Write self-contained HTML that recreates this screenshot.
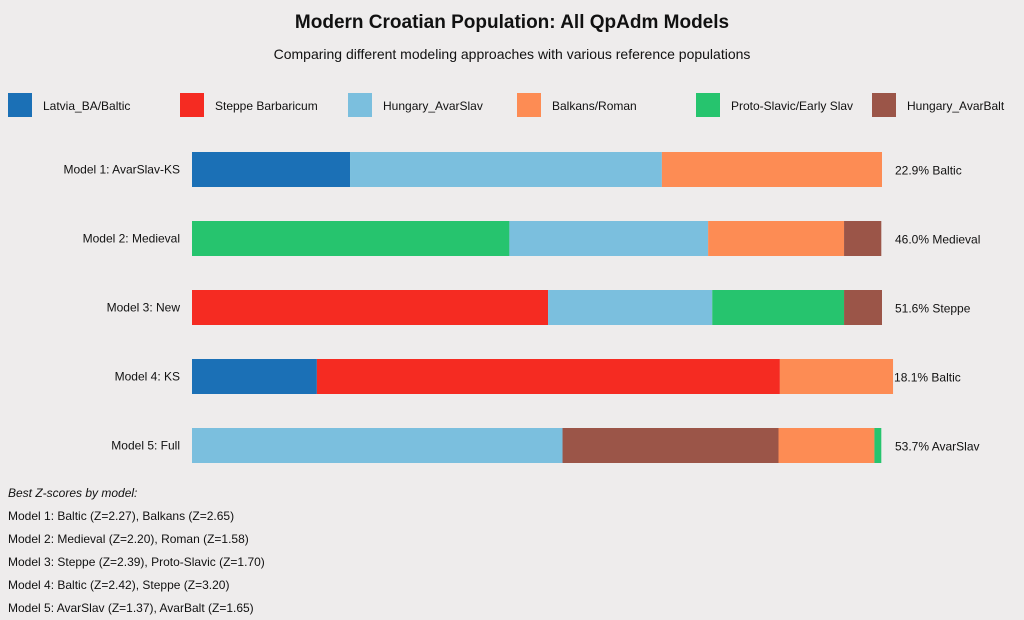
<!DOCTYPE html>
<html><head><meta charset="utf-8"><style>
body{margin:0;background:#eeecec;font-family:"Liberation Sans",sans-serif;}
svg{display:block}
</style></head><body>
<svg width="1024" height="620" id="c">
<text x="512" y="28" text-anchor="middle" font-size="19" font-weight="bold" fill="#111">Modern Croatian Population: All QpAdm Models</text>
<text x="512" y="59" text-anchor="middle" font-size="14" fill="#111">Comparing different modeling approaches with various reference populations</text>
<g id="legend"></g>
<g id="bars"></g>
<g font-size="12" fill="#111">
<text x="8" y="497" font-style="italic">Best Z-scores by model:</text>
<text x="8" y="520">Model 1: Baltic (Z=2.27), Balkans (Z=2.65)</text>
<text x="8" y="543">Model 2: Medieval (Z=2.20), Roman (Z=1.58)</text>
<text x="8" y="566">Model 3: Steppe (Z=2.39), Proto-Slavic (Z=1.70)</text>
<text x="8" y="589">Model 4: Baltic (Z=2.42), Steppe (Z=3.20)</text>
<text x="8" y="612">Model 5: AvarSlav (Z=1.37), AvarBalt (Z=1.65)</text>
</g>
</svg>
<script>
const components=["Latvia_BA/Baltic","Steppe Barbaricum","Hungary_AvarSlav","Balkans/Roman","Proto-Slavic/Early Slav","Hungary_AvarBalt"];
const colors=["#1b70b6","#f52b22","#7bbfde","#fd8c54","#26c46e","#9b5548"];
const models=["Model 1: AvarSlav-KS","Model 2: Medieval","Model 3: New","Model 4: KS","Model 5: Full"];
const seg1=[[0,22.9],[2,45.2],[3,31.9]];
const seg2=[[4,46.0],[2,28.8],[3,19.7],[5,5.4]];
const seg3=[[1,51.6],[2,23.8],[4,19.1],[5,5.5]];
const seg4=[[0,18.1],[1,67.1],[3,16.4]];
const seg5=[[2,53.7],[5,31.3],[3,13.9],[4,1.0]];
const labels=["22.9% Baltic","46.0% Medieval","51.6% Steppe","18.1% Baltic","53.7% AvarSlav"];
const segs=[seg1,seg2,seg3,seg4,seg5];
const NS="http://www.w3.org/2000/svg";
const x0=192,W=690,y0=152,step=69,bh=35;
const xs=v=>v/100*W;
const lg=document.getElementById('legend');
const lx=[8,180,348,517,696,872];
components.forEach((c,i)=>{
 const r=document.createElementNS(NS,'rect');
 r.setAttribute('x',lx[i]);r.setAttribute('y',93);r.setAttribute('width',24);r.setAttribute('height',24);r.setAttribute('fill',colors[i]);
 
 
 lg.appendChild(r);
 const t=document.createElementNS(NS,'text');
 t.setAttribute('x',lx[i]+35);t.setAttribute('y',110);t.setAttribute('font-size','12');t.setAttribute('fill','#111');
 t.textContent=c;
 
 
 lg.appendChild(t);
});
const bg=document.getElementById('bars');
segs.forEach((s,m)=>{
 const y=y0+m*step;let acc=0;
 s.forEach(([ci,v])=>{
  const r=document.createElementNS(NS,'rect');
  r.setAttribute('x',x0+xs(acc));r.setAttribute('y',y);r.setAttribute('width',xs(v));r.setAttribute('height',bh);r.setAttribute('fill',colors[ci]);
  
  
  bg.appendChild(r);acc+=v;
 });
 const t=document.createElementNS(NS,'text');
 t.setAttribute('x',180);t.setAttribute('y',y+bh/2+4);t.setAttribute('text-anchor','end');t.setAttribute('font-size','12');t.setAttribute('fill','#111');
 t.textContent=models[m];
 
 
 bg.appendChild(t);
 const v=document.createElementNS(NS,'text');
 v.setAttribute('x',Math.max(x0+xs(acc),x0+W)+13);v.setAttribute('y',y+bh/2+5);v.setAttribute('font-size','12');v.setAttribute('fill','#111');
 if(m===3)v.setAttribute('x',x0+xs(acc)+1);
 v.textContent=labels[m];
 
 
 bg.appendChild(v);
});
</script>
</body></html>
